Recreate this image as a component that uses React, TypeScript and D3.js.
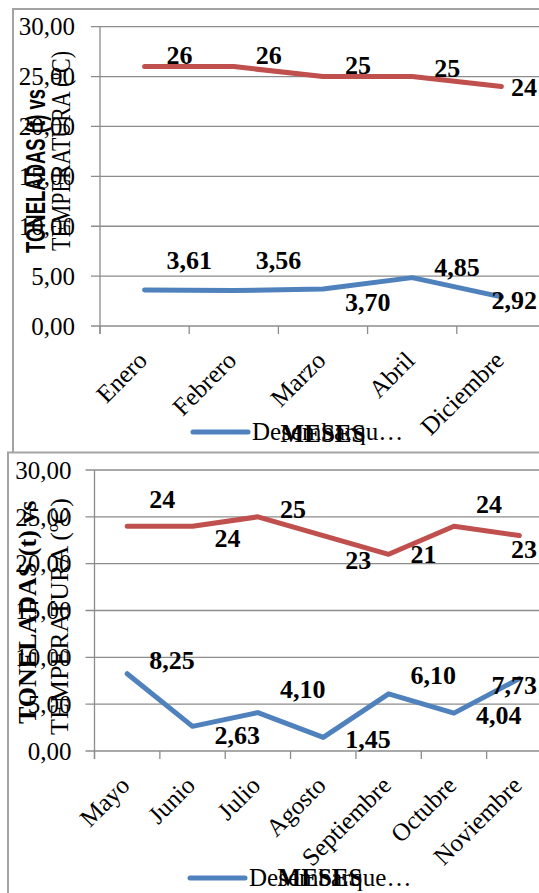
import React from "react";
import * as d3 from "d3";

// ---------- DATA ----------
const monthsA = ["Enero", "Febrero", "Marzo", "Abril", "Diciembre"];
const tempA = [26, 26, 25, 25, 24];
const catchA = [3.61, 3.56, 3.7, 4.85, 2.92];

const monthsB = ["Mayo", "Junio", "Julio", "Agosto", "Septiembre", "Octubre", "Noviembre"];
const tempB = [24, 24, 25, 23, 21, 24, 23];
const catchB = [8.25, 2.63, 4.1, 1.45, 6.1, 4.04, 7.73];

const yTicks = [0, 5, 10, 15, 20, 25, 30];
const xTitle = "MESES";
const yTitle1 = "TONELADAS (t) vs";
const yTitle2 = "TEMPERATURA (ºC)";
const legendA = "Desembarqu…";
const legendB = "Desembarque…";

// label placement (layout only): vertical offset of each data label from its point
const tempDyA = [-3, -3, -3, 0, 9];
const catchDyA = [-21, -21, 22, -2, 12];
const tempDyB = [-18, 21, 1, 33, 9, -13, 22];
const catchDyB = [-5, 18, -15, 11, -10, 11, 15];

// ---------- STYLE ----------
const RED = "#C0504D";
const BLUE = "#4F81BD";
const GRID = "#8C8C8C";
const BORDER = "#A3A3A3";
const SERIF = "'Liberation Serif', 'Times New Roman', serif";
const SANS = "'Liberation Sans', Arial, sans-serif";

const locale = d3.formatLocale({ decimal: ",", thousands: ".", grouping: [3], currency: ["", ""] });
const fmt2 = locale.format(".2f");
const fmt0 = locale.format(".0f");

function labelWidth(s: string, size: number) {
  let w = 0;
  for (const c of s) w += c === "," ? 0.25 : 0.5;
  return w * size;
}

type Cfg = {
  frameX: number; frameY: number;
  x0: number; x1: number; yTop: number; yBottom: number;
  months: string[]; temp: number[]; catchv: number[];
  tempDy: number[]; catchDy: number[];
  legendText: string; legendX: number; legendY: number;
  titleX: number; titleY: number;
  t1: { x: number; y0: number; len?: number; font: string; size: number; weight: string };
  t2: { x: number; y0: number; len?: number; font: string; size: number; weight: string };
  tickGap: number;
};

function Chart({ c }: { c: Cfg }) {
  const x = d3.scaleBand<string>().domain(c.months).range([c.x0, c.x1]);
  const y = d3.scaleLinear().domain([0, 30]).range([c.yBottom, c.yTop]);
  const cx = (i: number) => (x(c.months[i]) as number) + x.bandwidth() / 2;
  const line = d3.line<number>().x((_, i) => cx(i)).y((d) => y(d));
  const bounds = c.months.map((m) => x(m) as number).concat([c.x1]);
  const LS = 26;

  const labels = (vals: number[], dys: number[], f: (v: number) => string) =>
    vals.map((v, i) => {
      const s = f(v);
      const w = labelWidth(s, LS);
      const lx = Math.min(cx(i) + 22, 537 - w);
      return (
        <text key={i} x={lx} y={y(v) + dys[i]} fontFamily={SERIF} fontWeight="bold" fontSize={LS} fill="#000">
          {s}
        </text>
      );
    });

  return (
    <g>
      <rect x={c.frameX} y={c.frameY} width={700} height={700} fill="#fff" stroke={BORDER} strokeWidth={2} />
      {/* gridlines + y ticks */}
      {yTicks.map((t) => (
        <line key={t} x1={c.x0 - 9} x2={600} y1={y(t)} y2={y(t)} stroke={GRID} strokeWidth={1.3} />
      ))}
      <line x1={c.x0} x2={c.x0} y1={y(30)} y2={y(0) + 8} stroke={GRID} strokeWidth={1.3} />
      {bounds.map((b, i) => (
        <line key={i} x1={b} x2={b} y1={y(0)} y2={y(0) + 8} stroke={GRID} strokeWidth={1.3} />
      ))}
      {yTicks.map((t) => (
        <text key={t} x={c.x0 - c.tickGap} y={y(t)} dy="0.35em" textAnchor="end" fontFamily={SERIF} fontSize={25} fill="#000">
          {fmt2(t)}
        </text>
      ))}
      {/* y title */}
      <text
        transform={`translate(${c.t1.x},${c.t1.y0}) rotate(-90)`}
        fontFamily={c.t1.font} fontWeight={c.t1.weight} fontSize={c.t1.size} fill="#000"
        {...(c.t1.len ? { textLength: c.t1.len, lengthAdjust: "spacingAndGlyphs" } : {})}
      >
        {yTitle1}
      </text>
      <text
        transform={`translate(${c.t2.x},${c.t2.y0}) rotate(-90)`}
        fontFamily={c.t2.font} fontWeight={c.t2.weight} fontSize={c.t2.size} fill="#000"
        {...(c.t2.len ? { textLength: c.t2.len, lengthAdjust: "spacingAndGlyphs" } : {})}
      >
        {yTitle2}
      </text>
      {/* category labels */}
      {c.months.map((m, i) => (
        <text key={m} transform={`translate(${cx(i) + 4},${y(0) + 36}) rotate(-45)`} textAnchor="end" fontFamily={SERIF} fontSize={25} fill="#000">
          {m}
        </text>
      ))}
      {/* series */}
      <path d={line(c.temp) || ""} fill="none" stroke={RED} strokeWidth={5} strokeLinecap="round" strokeLinejoin="round" />
      <path d={line(c.catchv) || ""} fill="none" stroke={BLUE} strokeWidth={5} strokeLinecap="round" strokeLinejoin="round" />
      {labels(c.temp, c.tempDy, fmt0)}
      {labels(c.catchv, c.catchDy, fmt2)}
      {/* legend */}
      <line x1={c.legendX} x2={c.legendX + 55} y1={c.legendY - 8} y2={c.legendY - 8} stroke={BLUE} strokeWidth={5} strokeLinecap="round" />
      <text x={c.legendX + 59} y={c.legendY} fontFamily={SERIF} fontSize={25} fill="#000">
        {c.legendText}
      </text>
      {/* x title */}
      <text x={c.titleX} y={c.titleY} textAnchor="middle" fontFamily={SERIF} fontWeight="bold" fontSize={25} fill="#000">
        {xTitle}
      </text>
    </g>
  );
}

const cfgA: Cfg = {
  frameX: 13, frameY: 9,
  x0: 100, x1: 546, yTop: 26.7, yBottom: 326,
  months: monthsA, temp: tempA, catchv: catchA,
  tempDy: tempDyA, catchDy: catchDyA,
  legendText: legendA, legendX: 193, legendY: 440,
  titleX: 323, titleY: 442,
  t1: { x: 45, y0: 253, len: 164, font: SANS, size: 27, weight: "bold" },
  t2: { x: 70, y0: 251, len: 200, font: SERIF, size: 27, weight: "normal" },
  tickGap: 25,
};

const cfgB: Cfg = {
  frameX: 8, frameY: 452.5,
  x0: 94.5, x1: 552, yTop: 470, yBottom: 751,
  months: monthsB, temp: tempB, catchv: catchB,
  tempDy: tempDyB, catchDy: catchDyB,
  legendText: legendB, legendX: 190, legendY: 886,
  titleX: 320, titleY: 886,
  t1: { x: 36, y0: 724, font: SERIF, size: 26, weight: "bold" },
  t2: { x: 68, y0: 735, font: SERIF, size: 26, weight: "normal" },
  tickGap: 23,
};

export default function App() {
  return (
    <div style={{ position: "absolute", left: 0, top: 0 }}>
      <svg width={539} height={893} style={{ display: "block", background: "#fff" }}>
        <Chart c={cfgA} />
        <Chart c={cfgB} />
      </svg>
    </div>
  );
}
